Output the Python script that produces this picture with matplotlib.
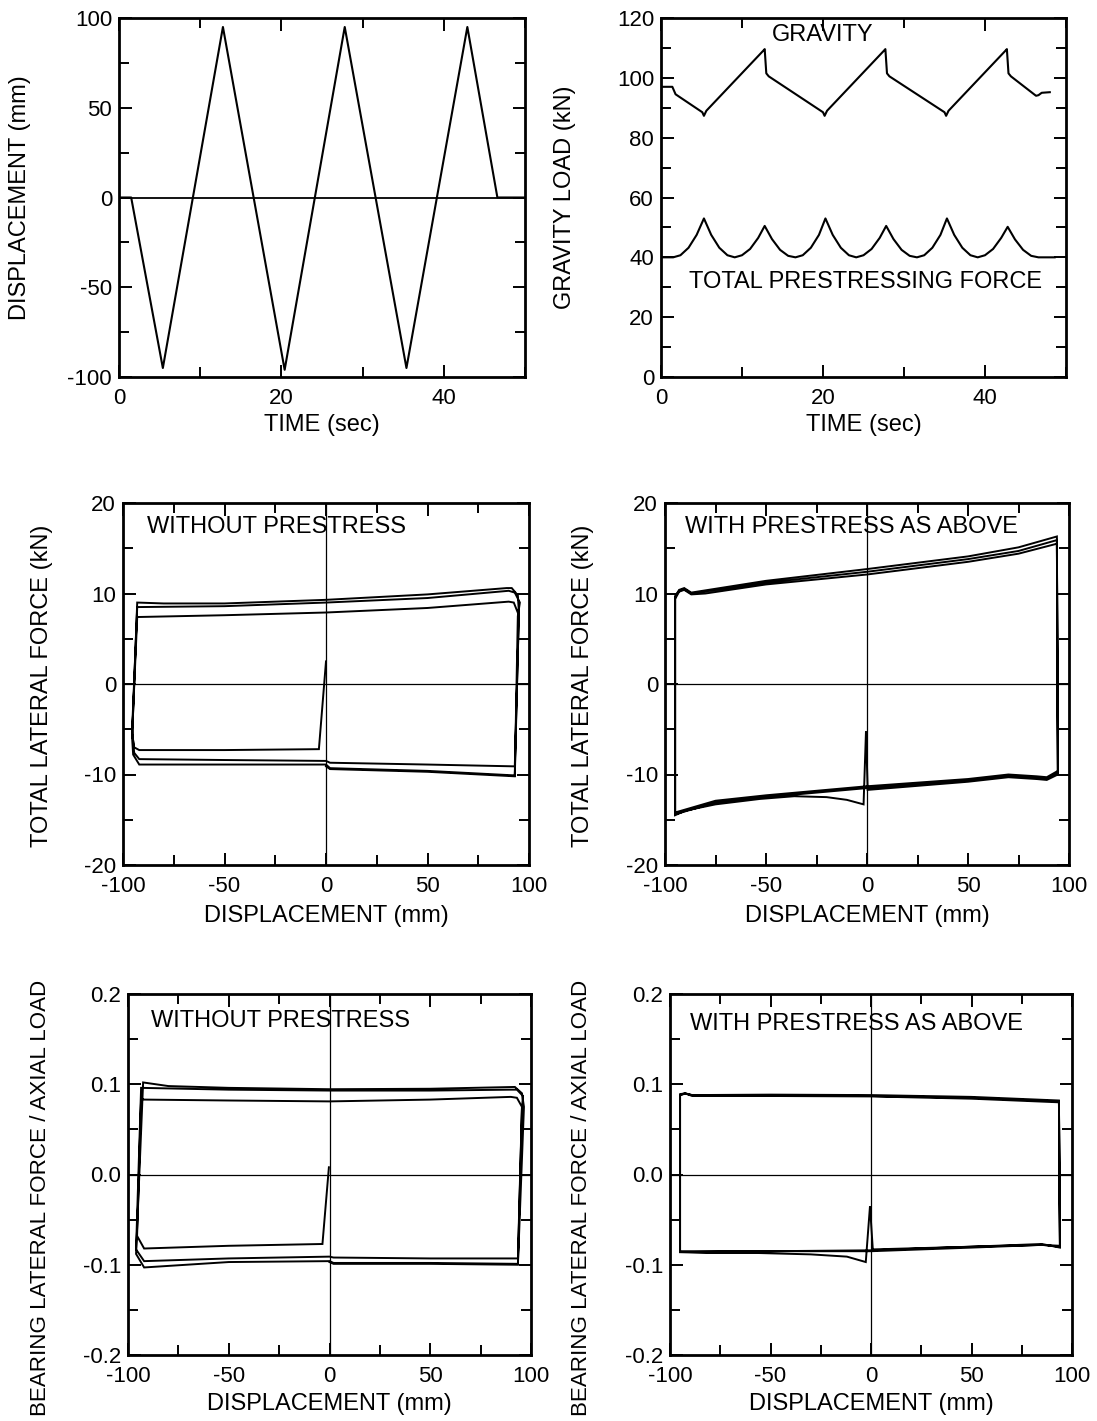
import matplotlib
matplotlib.use("Agg")
import matplotlib.pyplot as plt
from matplotlib.ticker import MultipleLocator, FuncFormatter

plt.rcParams['font.family'] = ['Liberation Sans', 'DejaVu Sans']
plt.rcParams['axes.unicode_minus'] = False

# ---------------- data ----------------
# top-left: imposed displacement history
time_disp = [0, 1.5, 5.4, 12.8, 20.4, 27.8, 35.4, 42.9, 46.6, 50]
disp_hist = [0, 0, -95, 95, -96, 95, -95, 95, 0, 0]

# top-right: gravity load history
grav_t = [0, 1.4, 1.8, 5.1, 5.3, 5.6, 12.6, 12.8, 13.0, 13.3, 20.0, 20.2, 20.5,
          27.5, 27.7, 27.9, 28.2, 35.0, 35.2, 35.5, 42.5, 42.7, 42.9, 43.2,
          46.3, 46.6, 47.0, 48.0]
grav_v = [97, 97, 94.5, 88.5, 87.3, 89, 109, 109.6, 101.5, 100.5, 88.5, 87.3, 89,
          109, 109.6, 101.5, 100.5, 88.5, 87.3, 89, 109, 109.6, 101.5, 100.5,
          94, 94.2, 95, 95.2]

# top-right: total prestressing force history
pre_t = [0, 1.5, 2.4, 3.4, 4.4, 5.3, 6.2, 7.2, 8.2, 9.1, 10.0, 11.0, 12.0, 12.8,
         13.7, 14.7, 15.7, 16.6, 17.5, 18.5, 19.5, 20.3, 21.2, 22.2, 23.2, 24.1,
         25.0, 26.0, 27.0, 27.8, 28.7, 29.7, 30.7, 31.6, 32.5, 33.5, 34.5, 35.3,
         36.2, 37.2, 38.2, 39.1, 40.0, 41.0, 42.0, 42.8, 43.7, 44.7, 45.7, 46.6, 48.6]
pre_v = [40, 40, 40.7, 43.2, 47.5, 53, 47.5, 43.2, 40.7, 40, 40.7, 42.8, 46.5, 50.5,
         46.1, 42.5, 40.5, 40, 40.7, 43.2, 47.5, 53, 47.5, 43.2, 40.7, 40,
         40.7, 42.8, 46.5, 50.5, 46.1, 42.5, 40.5, 40, 40.7, 43.2, 47.5, 53,
         47.5, 43.2, 40.7, 40, 40.7, 42.8, 46.5, 50.2, 46.0, 42.5, 40.5, 40, 40]

# middle-left: total lateral force vs displacement, without prestress
ml_disp = [0, -3.5, -50, -92, -94.5, -95.5, -93, -50, 0, 50, 90, 92.5, 95,
           93, 50, 2, 0, -50, -92, -94.5, -95.5, -93, -50, 0, 50, 90, 93, 95.5, 94.5,
           93, 50, 2, 0, -50, -92, -95, -95.5, -93, -80, -50, 0, 50, 89, 91.5, 94.5, 95,
           93, 50, 2, 0]
ml_force = [2.5, -7.2, -7.3, -7.3, -7.0, -5.5, 7.4, 7.6, 7.9, 8.4, 9.1, 9.0, 7.6,
            -9.1, -8.9, -8.7, -8.5, -8.4, -8.3, -7.6, -5.0, 8.5, 8.6, 9.0, 9.5, 10.3, 10.1, 9.0, 7.5,
            -10.1, -9.6, -9.3, -8.9, -8.9, -8.9, -7.8, -6.0, 9.0, 8.9, 8.9, 9.3, 9.9, 10.6, 10.6, 9.8, 8.0,
            -10.2, -9.7, -9.4, -9.1]

# middle-right: total lateral force vs displacement, with prestress
mr_disp = [0.3, -0.5, -1.7, -10, -20, -36, -53, -75, -90, -95,
           -95, -93, -90.5, -87, -80, -50, 0, 50, 75, 94,
           94.5, 89, 84, 70, 50, 0, -50, -75, -95,
           -95, -93, -90.5, -87, -50, 0, 50, 75, 94,
           94.5, 89, 84, 70, 50, 0, -50, -75, -95,
           -95, -93, -90.5, -87, -50, 0, 50, 75, 94,
           94.5, 89, 84, 70, 50, 0.3]
mr_force = [-11.4, -5.2, -13.3, -12.8, -12.5, -12.4, -12.7, -13.3, -14.0, -14.5,
            9.4, 10.2, 10.4, 9.9, 10.0, 11.0, 12.1, 13.5, 14.4, 15.5,
            -9.6, -10.3, -10.2, -10.0, -10.5, -11.3, -12.3, -12.9, -14.2,
            9.6, 10.3, 10.5, 10.0, 11.2, 12.4, 13.8, 14.7, 15.9,
            -9.8, -10.5, -10.4, -10.1, -10.7, -11.5, -12.5, -13.1, -14.4,
            9.7, 10.4, 10.6, 10.1, 11.4, 12.7, 14.1, 15.1, 16.3,
            -10.0, -10.6, -10.5, -10.3, -10.8, -11.7]

# bottom-left: bearing lateral force / axial load, without prestress
bl_disp = [-0.3, -3.5, -50, -92, -95.5, -93.5, -92, -50, 0, 50, 90, 93, 95.5,
           93.5, 50, 2, 0, -50, -92, -96, -93.5, -50, 0, 50, 90, 93, 96, 95.5,
           93.5, 50, 2, 0, -50, -92, -96, -92.5, -80, -50, 0, 50, 92, 95.5, 96.5,
           93.5, 50, 2, 0]
bl_ratio = [0.008, -0.077, -0.079, -0.082, -0.068, 0.084, 0.083, 0.082, 0.081, 0.083, 0.086, 0.085, 0.075,
            -0.093, -0.093, -0.092, -0.091, -0.093, -0.096, -0.083, 0.096, 0.094, 0.093, 0.093, 0.094, 0.094, 0.087, 0.072,
            -0.099, -0.098, -0.098, -0.096, -0.097, -0.103, -0.088, 0.102, 0.098, 0.096, 0.0945, 0.095, 0.097, 0.090, 0.075,
            -0.100, -0.099, -0.099, -0.097]

# bottom-right: bearing lateral force / axial load, with prestress
br_disp = [0.9, -0.5, -2.6, -12, -30, -56, -82, -95,
           -95, -92.5, -89, -80, -50, 0, 50, 93.5,
           94, 85, 50, 0, -50, -95,
           -95, -92.5, -89, -50, 0, 50, 93.5,
           94, 85, 50, 0, -50, -95,
           -95, -92.5, -89, -50, 0, 50, 93.5,
           94, 85, 50, 0.9]
br_ratio = [-0.083, -0.035, -0.097, -0.091, -0.0885, -0.087, -0.087, -0.086,
            0.088, 0.090, 0.088, 0.087, 0.0875, 0.087, 0.085, 0.081,
            -0.080, -0.078, -0.081, -0.085, -0.085, -0.086,
            0.089, 0.090, 0.087, 0.087, 0.0865, 0.084, 0.080,
            -0.081, -0.077, -0.080, -0.084, -0.085, -0.085,
            0.088, 0.0895, 0.088, 0.0885, 0.088, 0.086, 0.082,
            -0.079, -0.078, -0.080, -0.083]

# ---------------- layout ----------------
W, H = 1097, 1421
fig = plt.figure(figsize=(W / 100, H / 100), dpi=100)


def make_ax(l, t, r, b):
    return fig.add_axes([l / W, 1 - b / H, (r - l) / W, (b - t) / H])


LW = 1.5
TEXT = 17
TICK = 16


def style(ax, xmaj, xmin, ymaj, ymin):
    ax.xaxis.set_major_locator(MultipleLocator(xmaj))
    ax.xaxis.set_minor_locator(MultipleLocator(xmin))
    ax.yaxis.set_major_locator(MultipleLocator(ymaj))
    ax.yaxis.set_minor_locator(MultipleLocator(ymin))
    ax.tick_params(which='both', direction='in', top=True, right=True, width=1.4,
                   labelsize=TICK, colors='black')
    ax.tick_params(which='major', length=9)
    ax.tick_params(which='minor', length=7)
    ax.tick_params(axis='x', pad=8)
    ax.tick_params(axis='y', pad=5)
    for s in ax.spines.values():
        s.set_linewidth(2.0)


def ylab(ax, text, x, y=0.5, size=TEXT):
    ax.text(x, y, text, transform=ax.transAxes, rotation=90, ha='center',
            va='center', fontsize=size)


def xlab(ax, text, y):
    ax.text(0.5, y, text, transform=ax.transAxes, ha='center', va='center',
            fontsize=TEXT)


# top-left
ax = make_ax(119, 18, 525, 377)
ax.plot(time_disp, disp_hist, color='black', lw=LW)
ax.axhline(0, color='black', lw=1.3)
ax.set_xlim(0, 50)
ax.set_ylim(-100, 100)
style(ax, 20, 10, 50, 25)
ylab(ax, 'DISPLACEMENT (mm)', -0.244)
xlab(ax, 'TIME (sec)', -0.135)

# top-right
ax = make_ax(661, 18, 1066, 377)
ax.plot(grav_t, grav_v, color='black', lw=LW)
ax.plot(pre_t, pre_v, color='black', lw=LW)
ax.set_xlim(0, 50)
ax.set_ylim(0, 120)
style(ax, 20, 10, 20, 10)
ax.text(20, 114.3, 'GRAVITY', ha='center', va='center', fontsize=TEXT)
ax.text(25.2, 31.8, 'TOTAL PRESTRESSING FORCE', ha='center', va='center', fontsize=TEXT)
ylab(ax, 'GRAVITY LOAD (kN)', -0.237)
xlab(ax, 'TIME (sec)', -0.135)


def hyst(ax, xs, ys, lims, ymaj, ymin, label, ylabx, ylaby, xlaby, note, nx, ny,
         fmt=None, labsize=TEXT):
    ax.axhline(0, color='black', lw=0.9)
    ax.axvline(0, color='black', lw=0.9)
    ax.plot(xs, ys, color='black', lw=1.4, solid_joinstyle='miter')
    ax.set_xlim(-100, 100)
    ax.set_ylim(*lims)
    style(ax, 50, 25, ymaj, ymin)
    if fmt is not None:
        ax.yaxis.set_major_formatter(fmt)
    ylab(ax, label, ylabx, ylaby, labsize)
    xlab(ax, 'DISPLACEMENT (mm)', xlaby)
    ax.text(nx, ny, note, transform=ax.transAxes, ha='left', va='center', fontsize=TEXT)


fmt1 = FuncFormatter(lambda v, p: '0.0' if abs(v) < 1e-9 else f'{v:.1f}')

ax = make_ax(123, 503, 529, 865)
hyst(ax, ml_disp, ml_force, (-20, 20), 10, 5, 'TOTAL LATERAL FORCE (kN)', -0.2, 0.494,
     -0.14, 'WITHOUT PRESTRESS', 0.059, 0.934)

ax = make_ax(665, 503, 1069, 865)
hyst(ax, mr_disp, mr_force, (-20, 20), 10, 5, 'TOTAL LATERAL FORCE (kN)', -0.203, 0.494,
     -0.14, 'WITH PRESTRESS AS ABOVE', 0.05, 0.934)

ax = make_ax(128, 994, 531, 1355)
hyst(ax, bl_disp, bl_ratio, (-0.2, 0.2), 0.1, 0.05, 'BEARING LATERAL FORCE / AXIAL LOAD',
     -0.218, 0.435, -0.135, 'WITHOUT PRESTRESS', 0.057, 0.925, fmt1, 16.1)

ax = make_ax(670, 994, 1072, 1355)
hyst(ax, br_disp, br_ratio, (-0.2, 0.2), 0.1, 0.05, 'BEARING LATERAL FORCE / AXIAL LOAD',
     -0.219, 0.435, -0.135, 'WITH PRESTRESS AS ABOVE', 0.05, 0.917, fmt1, 16.1)

fig.savefig('out.png', dpi=100, facecolor='white')
